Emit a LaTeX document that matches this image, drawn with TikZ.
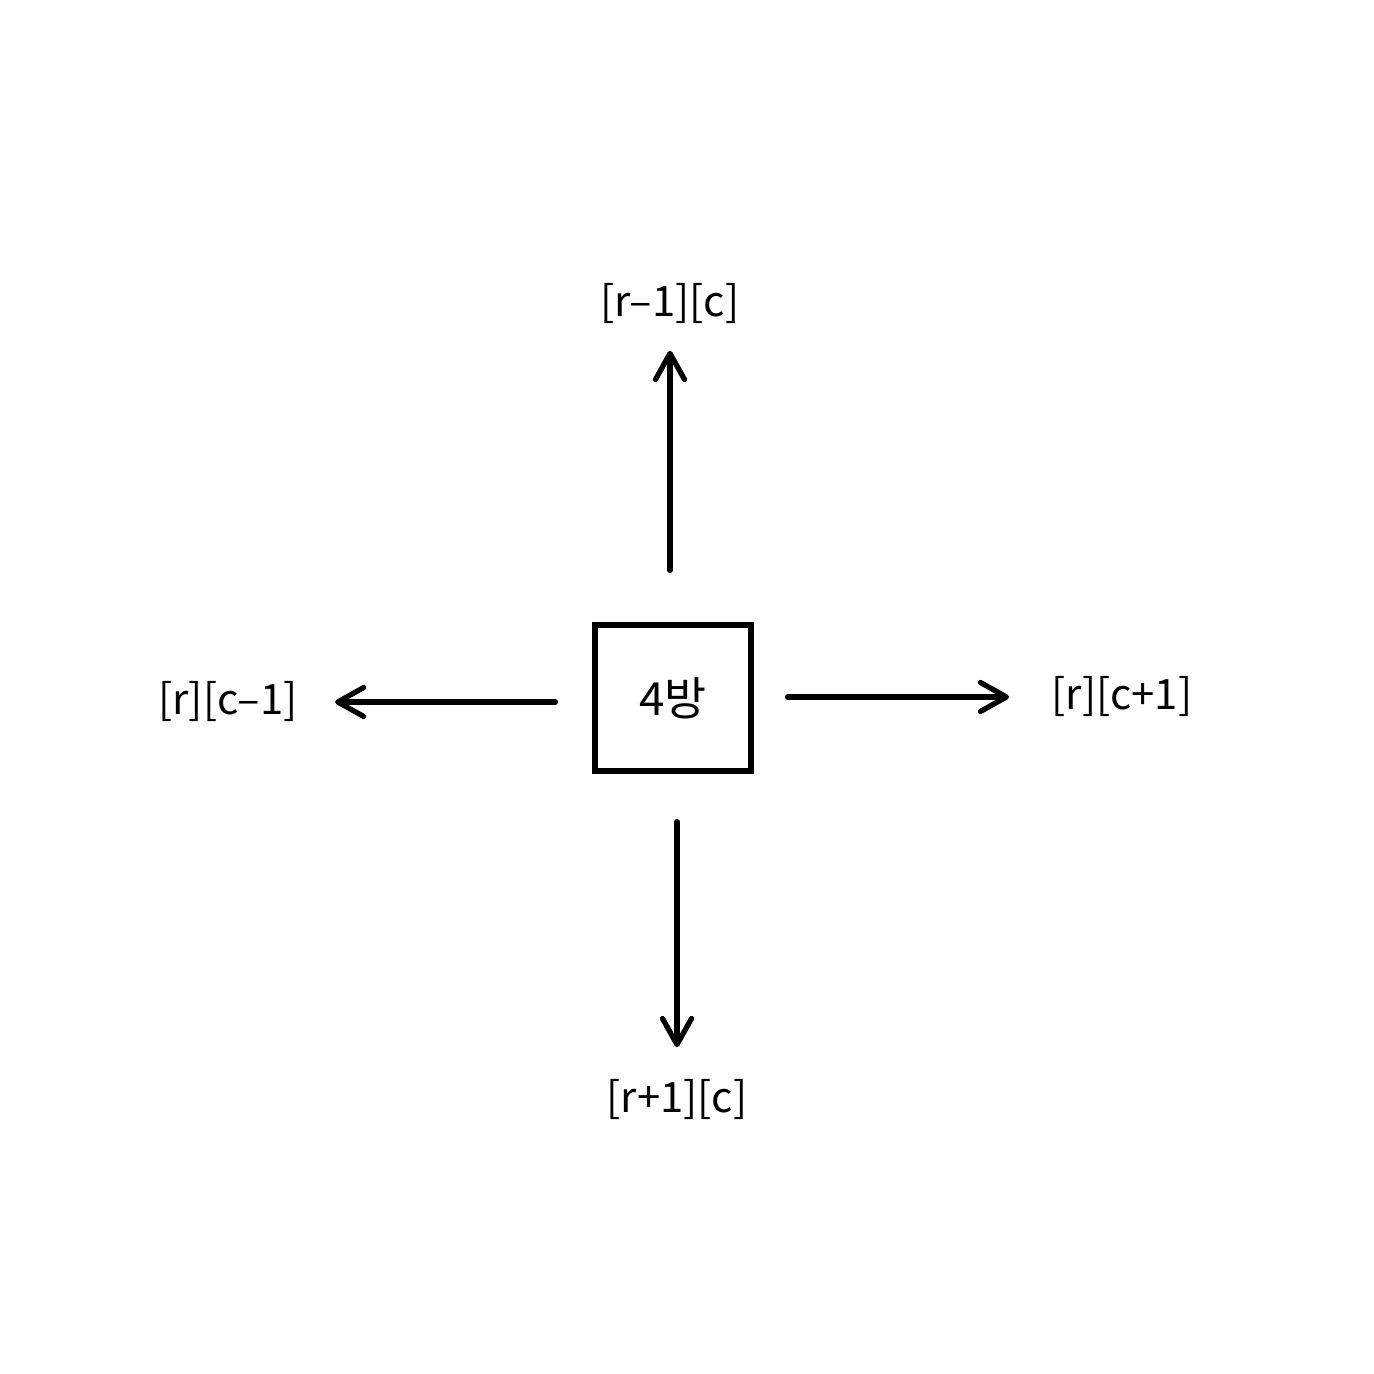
\documentclass[tikz,border=0pt]{standalone}
\usepackage{fontspec}
\setmainfont{Noto Sans CJK KR}
\usetikzlibrary{arrows.meta}
\tikzstyle{cellbox} = [rectangle, minimum width=1.56cm, minimum height=1.46cm, line width=1.5pt, draw=black, inner sep=0pt, font=\fontsize{13pt}{15pt}\selectfont]
\tikzstyle{lbl} = [inner sep=0pt, font=\fontsize{11.9pt}{14pt}\selectfont]
\tikzstyle{arrow} = [line width=1.5pt, line cap=round, -{Straight Barb[length=2.6mm, width=2.9mm, round]}]

\begin{document}
\begin{tikzpicture}
                    \useasboundingbox (0,0) rectangle (13.74,13.74);

                    \node[cellbox] (cell) at (6.73,6.76) {4방};

                    \node[lbl] (up) at (6.70,10.70) {[r–1][c]};
                    \node[lbl] (down) at (6.77,2.75) {[r+1][c]};
                    \node[lbl] (left) at (2.28,6.72) {[r][c–1]};
                    \node[lbl] (right) at (11.22,6.77) {[r][c+1]};

                    \draw[arrow, shorten <=0.52cm, shorten >=0.26cm] (cell.north -| up) -- (up.south);
                    \draw[arrow, shorten <=0.48cm, shorten >=0.31cm] (cell.south -| down) -- (down.north);
                    \draw[arrow, shorten <=0.37cm, shorten >=0.37cm] (cell.west |- left) -- (left.east);
                    \draw[arrow, shorten <=0.34cm, shorten >=0.42cm] (cell.east |- right) -- (right.west);
                \end{tikzpicture}
\end{document}
